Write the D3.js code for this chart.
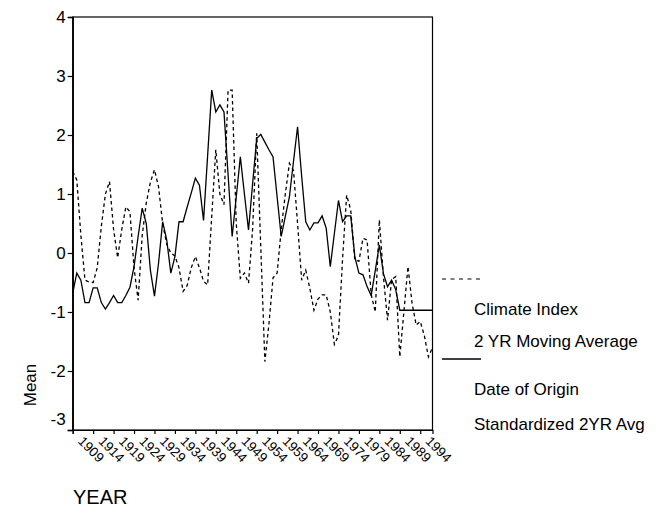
<!DOCTYPE html>
<html>
<head>
<meta charset="utf-8">
<script src="https://cdn.jsdelivr.net/npm/d3@7/dist/d3.min.js"></script>
<style>
  html, body { margin: 0; padding: 0; background: #fff; }
  svg { display: block; font-family: "Liberation Sans", Arial, Helvetica, sans-serif; }
</style>
</head>
<body>
<svg id="chart" width="662" height="519"></svg>
<script>
// ---- data ----
const years = d3.range(1909, 1998);
const climateIndex = [
  1.38, 1.24, 0.30, -0.46, -0.49, -0.50, -0.25, 0.45, 1.00, 1.21,
  0.40, -0.08, 0.40, 0.78, 0.70, -0.25, -0.80, 0.30, 0.85, 1.20,
  1.41, 1.12, 0.50, 0.15, 0.00, -0.05, -0.25, -0.65, -0.55, -0.25,
  -0.06, -0.25, -0.48, -0.54, 0.62, 1.75, 1.00, 0.82, 2.76, 2.76,
  0.50, -0.43, -0.34, -0.51, 0.40, 2.03, 0.10, -1.84, -1.20, -0.42,
  -0.34, 0.40, 1.00, 1.52, 1.40, 0.50, -0.46, -0.29, -0.60, -0.97,
  -0.78, -0.71, -0.71, -1.00, -1.55, -1.40, -0.10, 0.98, 0.73, -0.12,
  -0.14, 0.25, 0.22, -0.70, -1.00, 0.56, -0.40, -1.14, -0.45, -0.40,
  -1.76, -1.00, -0.23, -0.85, -1.22, -1.16, -1.40, -1.76, -1.60
];
const dateOfOrigin = [
  -0.68, -0.34, -0.46, -0.84, -0.84, -0.59, -0.59, -0.84, -0.95, -0.84,
  -0.72, -0.84, -0.84, -0.72, -0.58, -0.23, 0.28, 0.76, 0.50, -0.29,
  -0.73, -0.17, 0.53, 0.22, -0.34, -0.06, 0.53, 0.53, 0.78, 1.02,
  1.27, 1.15, 0.55, 1.65, 2.76, 2.39, 2.51, 2.39, 1.33, 0.28,
  0.95, 1.63, 1.00, 0.39, 1.17, 1.94, 2.01, 1.88, 1.75, 1.63,
  0.95, 0.28, 0.62, 0.95, 1.55, 2.14, 1.30, 0.53, 0.39, 0.51,
  0.51, 0.63, 0.42, -0.23, 0.33, 0.89, 0.53, 0.63, 0.63, -0.06,
  -0.34, -0.37, -0.57, -0.72, -0.30, 0.14, -0.35, -0.57, -0.46, -0.62,
  -0.97, -0.97, -0.97, -0.97, -0.97, -0.97, -0.97, -0.97, -0.97
];
const xTickLabels = ["1909","1914","1919","1924","1929","1934","1939","1944","1949","1954","1959","1964","1969","1974","1979","1984","1989","1994"];
const yTicks = [-3, -2, -1, 0, 1, 2, 3, 4];
const legendLabels = [
  ["Climate Index", "2 YR Moving Average"],
  ["Date of Origin", "Standardized 2YR Avg"]
];

// ---- layout ----
const svg = d3.select("#chart");
const L = 72.7, R = 432.5, T = 17, B = 430;
const x = d3.scaleLinear().domain([1909, 1997]).range([L, R]);
const y = d3.scaleLinear().domain([-3, 4]).range([B, T]);

// frame
svg.append("rect")
  .attr("x", L).attr("y", T).attr("width", R - L).attr("height", B - T)
  .attr("fill", "none").attr("stroke", "#000").attr("stroke-width", 1.2);

// y axis
const yAxis = svg.append("g")
  .attr("transform", `translate(${L},0)`)
  .call(d3.axisLeft(y).tickValues(yTicks).tickSize(5).tickPadding(2).tickFormat(d3.format("d")));
yAxis.select(".domain").attr("stroke", "#000").attr("stroke-width", 1.5);
yAxis.selectAll(".tick line").attr("stroke", "#000").attr("stroke-width", 1.2);
yAxis.selectAll(".tick text")
  .attr("font-size", 17).attr("fill", "#000")
  .attr("font-family", "Liberation Sans, Arial, sans-serif")
  .text(d => d < 0 ? "-" + Math.abs(d) : d)
  .attr("dy", d => d === -3 ? "-0.3em" : "0.34em");

// x axis
const xAxis = svg.append("g")
  .attr("transform", `translate(0,${B})`)
  .call(d3.axisBottom(x).tickValues(xTickLabels.map(Number)).tickSize(4).tickFormat((d, i) => xTickLabels[i]));
xAxis.select(".domain").attr("stroke", "#000").attr("stroke-width", 1.2);
xAxis.selectAll(".tick line").attr("stroke", "#000").attr("stroke-width", 1.2);
xAxis.selectAll(".tick text")
  .attr("font-size", 13.5).attr("fill", "#000")
  .attr("font-family", "Liberation Sans, Arial, sans-serif")
  .attr("text-anchor", "start")
  .attr("y", 0).attr("dy", 0)
  .attr("transform", "translate(4,12) rotate(45)");

// lines
const line = d3.line().x((d, i) => x(years[i])).y(d => y(d));
svg.append("path")
  .datum(climateIndex)
  .attr("d", line)
  .attr("fill", "none").attr("stroke", "#000").attr("stroke-width", 1.3)
  .attr("stroke-dasharray", "3.5,3");
svg.append("path")
  .datum(dateOfOrigin)
  .attr("d", line)
  .attr("fill", "none").attr("stroke", "#000").attr("stroke-width", 1.3);

// axis titles
svg.append("text")
  .attr("transform", "translate(36,385) rotate(-90)")
  .attr("text-anchor", "middle")
  .attr("font-size", 17).attr("fill", "#000")
  .text("Mean");
svg.append("text")
  .attr("x", 73).attr("y", 504)
  .attr("font-size", 20).attr("fill", "#000")
  .text("YEAR");

// legend
const lg = svg.append("g");
lg.append("line").attr("x1", 442).attr("x2", 481).attr("y1", 279).attr("y2", 279)
  .attr("stroke", "#000").attr("stroke-width", 1.2).attr("stroke-dasharray", "4,4.5");
lg.append("text").attr("x", 474).attr("y", 315).attr("font-size", 17).text(legendLabels[0][0]);
lg.append("text").attr("x", 474).attr("y", 347).attr("font-size", 17).text(legendLabels[0][1]);
lg.append("line").attr("x1", 442).attr("x2", 481).attr("y1", 359).attr("y2", 359)
  .attr("stroke", "#000").attr("stroke-width", 1.3);
lg.append("text").attr("x", 474).attr("y", 395).attr("font-size", 17).text(legendLabels[1][0]);
lg.append("text").attr("x", 474).attr("y", 430).attr("font-size", 17).text(legendLabels[1][1]);
</script>
</body>
</html>
